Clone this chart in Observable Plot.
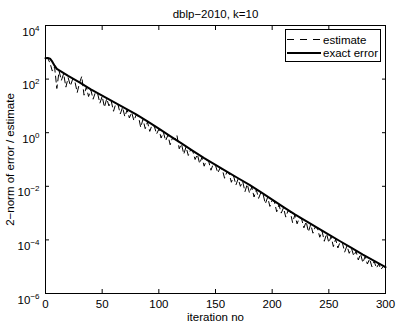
<!DOCTYPE html>
<html><head><meta charset="utf-8">
<script src="https://cdn.jsdelivr.net/npm/d3@7"></script>
<script src="https://cdn.jsdelivr.net/npm/@observablehq/plot@0.6"></script>
<style>body{margin:0;background:#fff}</style>
</head><body><div id="chart"></div>
<script>
const title = "dblp\u22122010, k=10";
const xLabel = "iteration no";
const yLabel = "2\u2212norm of error / estimate";
const seriesNames = ["estimate", "exact error"];
const xTicks = [0, 50, 100, 150, 200, 250, 300];
const yTicks = [1e4, 1e2, 1e0, 1e-2, 1e-4, 1e-6];

// exact error (log10 of value)
const exactIter = [0,2,4,6,8,10,15,20,30,40,50,60,70,80,90,100,110,120,130,140,150,160,170,180,190,200,210,220,230,240,250,260,270,280,290,300];
const exactLog10 = [2.78,2.79,2.76,2.65,2.50,2.38,2.25,2.12,1.88,1.62,1.38,1.15,0.92,0.68,0.42,0.15,-0.13,-0.40,-0.68,-0.95,-1.20,-1.45,-1.70,-1.95,-2.22,-2.50,-2.78,-3.05,-3.30,-3.55,-3.80,-4.05,-4.30,-4.55,-4.78,-5.02];

// estimate (log10 of value)
const estimateIter = [
0,2,4,6,8,10,12,14,16,18,
20,22,24,26,28,30,32,34,36,38,
40,42,44,46,48,50,52,54,56,58,
60,62,64,66,68,70,72,74,76,78,
80,82,84,86,88,90,92,94,96,98,
100,102,104,106,108,110,112,114,116,118,
120,122,124,126,128,130,132,134,136,138,
140,142,144,146,148,150,152,154,156,158,
160,162,164,166,168,170,172,174,176,178,
180,182,184,186,188,190,192,194,196,198,
200,202,204,206,208,210,212,214,216,218,
220,222,224,226,228,230,232,234,236,238,
240,242,244,246,248,250,252,254,256,258,
260,262,264,266,268,270,272,274,276,278,
280,282,284,286,288,290,292,294,296,298,
300];
const estimateLog10 = [
2.78,2.77,2.60,2.30,2.46,1.65,2.30,1.95,2.20,1.70,
2.05,1.75,2.00,1.90,1.50,1.86,2.10,1.40,1.70,1.35,
1.60,1.25,1.50,1.46,1.10,1.36,0.95,1.27,1.00,1.18,
0.80,1.08,1.04,0.70,0.95,0.60,0.85,0.55,0.76,0.45,
0.66,0.61,0.20,0.50,0.15,0.40,0.05,0.29,0.24,-0.05,
0.13,-0.20,0.02,-0.30,-0.09,-0.45,-0.20,-0.26,-0.10,-0.60,
-0.42,-0.80,-0.53,-0.85,-0.64,-0.70,-1.00,-0.81,-1.15,-0.92,
-1.25,-1.02,-1.07,-1.40,-1.17,-1.22,-1.50,-1.32,-1.37,-1.70,
-1.47,-1.52,-1.85,-1.62,-1.95,-1.72,-2.00,-1.82,-2.20,-1.92,
-2.25,-2.02,-2.40,-2.13,-2.45,-2.24,-2.30,-2.65,-2.41,-2.75,
-2.52,-2.58,-2.95,-2.69,-3.00,-2.80,-3.15,-2.91,-2.96,-3.35,
-3.07,-3.40,-3.17,-3.22,-3.55,-3.32,-3.70,-3.42,-3.75,-3.52,
-3.57,-3.90,-3.67,-4.05,-3.77,-4.10,-3.87,-4.25,-3.97,-4.30,
-4.07,-4.12,-4.45,-4.22,-4.50,-4.32,-4.60,-4.42,-4.75,-4.52,
-4.85,-4.62,-4.90,-4.71,-5.00,-4.80,-5.05,-4.90,-5.10,-4.99,
-5.02];

const exactData = exactIter.map((it, i) => ({iter: it, value: Math.pow(10, exactLog10[i])}));
const estimateData = estimateIter.map((it, i) => ({iter: it, value: Math.pow(10, estimateLog10[i])}));

const FONT = "'Liberation Sans', Arial, Helvetica, sans-serif";
const FS = 11.5;

const chart = Plot.plot({
  width: 399,
  height: 326,
  marginLeft: 45,
  marginRight: 14,
  marginTop: 25,
  marginBottom: 33,
  style: {fontFamily: FONT, fontSize: FS + "px", background: "white", color: "black"},
  x: {domain: [0, 300]},
  y: {type: "log", domain: [1e-6, 1e4]},
  marks: [
    Plot.line(estimateData, {x: "iter", y: "value", stroke: "black", strokeWidth: 1, strokeDasharray: "6,4"}),
    Plot.line(exactData, {x: "iter", y: "value", stroke: "black", strokeWidth: 2}),
    Plot.frame({stroke: "black", strokeWidth: 1}),
    Plot.axisX({anchor: "bottom", ticks: xTicks, tickSize: -4, tickPadding: 10, label: null, fontSize: FS, tickFormat: d => String(d)}),
    Plot.axisX({anchor: "top", ticks: xTicks, tickSize: -4, label: null, tickFormat: () => ""}),
    Plot.axisY({anchor: "left", ticks: yTicks, tickSize: -4, tickPadding: 10, label: null, fontSize: FS,
      tickFormat: d => "10^" + String(Math.round(Math.log10(d))).replace("-", "\u2212")}),
    Plot.axisY({anchor: "right", ticks: yTicks, tickSize: -4, label: null, tickFormat: () => ""}),
    Plot.text([title], {frameAnchor: "top", lineAnchor: "middle", textAnchor: "middle", dy: -11.5, fontSize: FS}),
    Plot.text([xLabel], {frameAnchor: "bottom", lineAnchor: "middle", textAnchor: "middle", dy: 24, fontSize: FS}),
    Plot.text([yLabel], {frameAnchor: "left", lineAnchor: "middle", textAnchor: "middle", dx: -35, rotate: -90, fontSize: FS})
  ]
});

document.getElementById("chart").appendChild(chart);

// superscript exponents on y tick labels
const svg = d3.select(chart);
svg.selectAll('g[aria-label="y-axis tick label"] text').each(function() {
  const t = d3.select(this);
  const s = t.text();
  if (!s.includes("^")) return;
  const [base, exp] = s.split("^");
  t.text(null);
  t.attr("dy", "0.55em");
  t.append("tspan").text(base);
  t.append("tspan").attr("dy", "-5").attr("font-size", "8px").text(exp);
});

// legend
const lg = svg.append("g").attr("font-family", FONT).attr("font-size", FS + "px").attr("text-anchor", "start");
lg.append("rect").attr("x", 285.5).attr("y", 29.5).attr("width", 95).attr("height", 32)
  .attr("fill", "white").attr("stroke", "black").attr("stroke-width", 1);
const rows = [{name: seriesNames[0], y: 39.5, dash: "7,6", w: 1}, {name: seriesNames[1], y: 53, dash: null, w: 2}];
rows.forEach(r => {
  lg.append("line").attr("x1", 287).attr("x2", 321).attr("y1", r.y).attr("y2", r.y)
    .attr("stroke", "black").attr("stroke-width", r.w).attr("stroke-dasharray", r.dash);
  lg.append("text").attr("x", 323).attr("y", r.y).attr("dy", "0.35em").attr("fill", "black")
    .attr("text-anchor", "start").text(r.name);
});
</script>
</body></html>
